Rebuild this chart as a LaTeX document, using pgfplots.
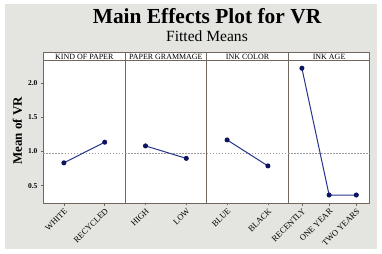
\documentclass[border=0pt]{standalone}
\usepackage{pgfplots}
\pgfplotsset{compat=1.18}
\usetikzlibrary{calc}
\usepackage{fontspec}
\setmainfont{Liberation Serif}
\definecolor{bg}{HTML}{E4E4E0}
\definecolor{axcol}{HTML}{706860}
\definecolor{lncol}{HTML}{28348C}
\definecolor{mkcol}{HTML}{0E1560}
\definecolor{refcol}{HTML}{9A9A9A}
\pgfplotsset{
  panel/.style={
    scale only axis, width=81.6bp, height=142.3bp,
    ymin=0.247, ymax=2.33, xmin=0.5,
    axis background/.style={fill=white},
    axis line style={axcol, line width=0.9bp},
    tick style={axcol, line width=0.6bp},
    tick align=outside, major tick length=2.5bp, tick pos=left,
    xtick={1,2,3},
    x tick label style={rotate=45, anchor=north east, font=\fontsize{8.5}{8.5}\selectfont, inner sep=1.5bp},
    y tick label style={font=\bfseries\fontsize{7.5}{7.5}\selectfont},
    /pgf/number format/assume math mode=true,
    /pgf/number format/fixed, /pgf/number format/fixed zerofill, /pgf/number format/precision=1,
    clip=false,
  },
  ser/.style={lncol, line width=1bp, mark=*, mark size=2bp, mark options={fill=mkcol, draw=mkcol}},
  refl/.style={refcol, dash pattern=on 1.5bp off 1.5bp, line width=0.6bp, forget plot},
}
\begin{document}
\begin{tikzpicture}
\useasboundingbox (0bp,0bp) rectangle (382bp,254bp);
\fill[white] (0bp,0bp) rectangle (382bp,254bp);
\fill[bg] (5bp,5bp) rectangle (376.5bp,249.5bp);
\node[font=\bfseries\fontsize{21.5}{21.5}\selectfont] at (207bp,237.5bp) {Main Effects Plot for VR};
\node[font=\fontsize{15.6}{15.6}\selectfont] at (207bp,217.5bp) {Fitted Means};
\node[font=\bfseries\fontsize{13}{13}\selectfont, rotate=90] at (17.5bp,123bp) {Mean of VR};

\begin{axis}[panel, name=a1, at={(43.5bp,51bp)}, anchor=south west, xmax=2.5,
  xticklabels={WHITE,RECYCLED}, ytick={0.5,1.0,1.5,2.0}]
\addplot[refl] coordinates {(0.5,0.98) (2.5,0.98)};
\addplot[ser] coordinates {(1,0.835) (2,1.137)};
\end{axis}
\begin{axis}[panel, name=a2, at={(125.1bp,51bp)}, anchor=south west, xmax=2.5,
  xticklabels={HIGH,LOW}, ytick=\empty]
\addplot[refl] coordinates {(0.5,0.98) (2.5,0.98)};
\addplot[ser] coordinates {(1,1.083) (2,0.900)};
\end{axis}
\begin{axis}[panel, name=a3, at={(206.7bp,51bp)}, anchor=south west, xmax=2.5,
  xticklabels={BLUE,BLACK}, ytick=\empty]
\addplot[refl] coordinates {(0.5,0.98) (2.5,0.98)};
\addplot[ser] coordinates {(1,1.170) (2,0.790)};
\end{axis}
\begin{axis}[panel, name=a4, at={(288.3bp,51bp)}, anchor=south west, xmax=3.5,
  xticklabels={RECENTLY,ONE YEAR,TWO YEARS}, ytick=\empty]
\addplot[refl] coordinates {(0.5,0.98) (3.5,0.98)};
\addplot[ser] coordinates {(1,2.220) (2,0.364) (3,0.364)};
\end{axis}

\foreach \a/\t in {a1/KIND OF PAPER,a2/PAPER GRAMMAGE,a3/INK COLOR,a4/INK AGE}{
  \filldraw[fill=white, draw=axcol, line width=0.9bp] (\a.north west) rectangle ([yshift=8bp]\a.north east);
  \node[font=\fontsize{8}{8}\selectfont, inner sep=0pt] at ([yshift=4bp]$(\a.north west)!0.5!(\a.north east)$) {\t};
}
\end{tikzpicture}
\end{document}
